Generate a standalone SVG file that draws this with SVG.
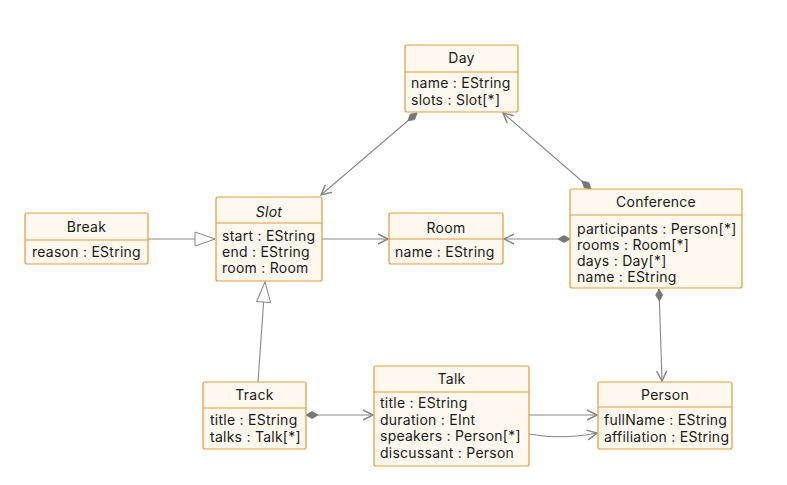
<svg xmlns="http://www.w3.org/2000/svg" width="787" height="485" viewBox="0 0 787 485">
<style>
.box{fill:#fff8ee;stroke:#e39a3b;stroke-width:1.2}
.div{stroke:#e39a3b;stroke-width:1.2}
text{font-family:Inter,"Liberation Sans",Arial,sans-serif;font-size:14px;letter-spacing:0.25px;fill:#1a1a1a}
.t{text-anchor:middle}
.it{font-style:italic}
.c{fill:none;stroke:#888;stroke-width:1.1}
</style>
<defs>
<marker id="arr" markerUnits="userSpaceOnUse" markerWidth="14" markerHeight="14" viewBox="-12 -7 14 14" refX="0" refY="0" orient="auto">
<path d="M-10,-5 L0,0 L-10,5" fill="none" stroke="#888" stroke-width="1.5"/>
</marker>
<marker id="dia" markerUnits="userSpaceOnUse" markerWidth="16" markerHeight="10" viewBox="-1 -5 16 10" refX="0" refY="0" orient="auto">
<path d="M0,0 L6,-3.5 L12,0 L6,3.5 Z" fill="#777" stroke="#777" stroke-width="0.8"/>
</marker>
<marker id="tri" markerUnits="userSpaceOnUse" markerWidth="24" markerHeight="18" viewBox="-22 -9 24 18" refX="0" refY="0" orient="auto">
<path d="M-20,-7 L0,0 L-20,7 Z" fill="#fff" stroke="#888" stroke-width="1"/>
</marker>
</defs>
<g id="connectors">
<path class="c" d="M417,113 L321,195" marker-start="url(#dia)" marker-end="url(#arr)"/>
<path class="c" d="M591,189 L503,113" marker-start="url(#dia)" marker-end="url(#arr)"/>
<path class="c" d="M148,239 L215,239" marker-end="url(#tri)"/>
<path class="c" d="M322,239 L388,239" marker-end="url(#arr)"/>
<path class="c" d="M570,239 L504,239" marker-start="url(#dia)" marker-end="url(#arr)"/>
<path class="c" d="M258,382 L265,282" marker-end="url(#tri)"/>
<path class="c" d="M659,289 L662,381" marker-start="url(#dia)" marker-end="url(#arr)"/>
<path class="c" d="M306,415 L373,415" marker-start="url(#dia)" marker-end="url(#arr)"/>
<path class="c" d="M529,415 L597,415" marker-end="url(#arr)"/>
<path class="c" d="M529,434 Q563,440 597,433" marker-end="url(#arr)"/>
</g>
<g id="Day">
<rect class="box" x="405" y="45" width="113" height="67" rx="2"/>
<line class="div" x1="405" y1="72" x2="518" y2="72"/>
<text class="t" x="461.5" y="63">Day</text>
<text x="411" y="88">name : EString</text>
<text x="411" y="105">slots : Slot[*]</text>
</g>
<g id="Conference">
<rect class="box" x="570" y="189" width="172" height="99" rx="2"/>
<line class="div" x1="570" y1="215" x2="742" y2="215"/>
<text class="t" x="656" y="207">Conference</text>
<text x="577" y="234">participants : Person[*]</text>
<text x="577" y="250">rooms : Room[*]</text>
<text x="577" y="266">days : Day[*]</text>
<text x="577" y="282">name : EString</text>
</g>
<g id="Break">
<rect class="box" x="25" y="213" width="123" height="51" rx="2"/>
<line class="div" x1="25" y1="240" x2="148" y2="240"/>
<text class="t" x="86.5" y="232">Break</text>
<text x="32" y="257">reason : EString</text>
</g>
<g id="Slot">
<rect class="box" x="216" y="197" width="106" height="84" rx="2"/>
<line class="div" x1="216" y1="223" x2="322" y2="223"/>
<text class="t it" x="269" y="217">Slot</text>
<text x="222" y="241">start : EString</text>
<text x="222" y="257">end : EString</text>
<text x="222" y="273">room : Room</text>
</g>
<g id="Room">
<rect class="box" x="389" y="213" width="114" height="51" rx="2"/>
<line class="div" x1="389" y1="239" x2="503" y2="239"/>
<text class="t" x="446" y="233">Room</text>
<text x="395" y="257">name : EString</text>
</g>
<g id="Track">
<rect class="box" x="203" y="382" width="103" height="67" rx="2"/>
<line class="div" x1="203" y1="408" x2="306" y2="408"/>
<text class="t" x="254.5" y="400">Track</text>
<text x="210" y="425">title : EString</text>
<text x="210" y="442">talks : Talk[*]</text>
</g>
<g id="Talk">
<rect class="box" x="374" y="366" width="155" height="100" rx="2"/>
<line class="div" x1="374" y1="392" x2="529" y2="392"/>
<text class="t" x="451.5" y="384">Talk</text>
<text x="380" y="408">title : EString</text>
<text x="380" y="425">duration : EInt</text>
<text x="380" y="441">speakers : Person[*]</text>
<text x="380" y="458">discussant : Person</text>
</g>
<g id="Person">
<rect class="box" x="598" y="382" width="134" height="67" rx="2"/>
<line class="div" x1="598" y1="407" x2="732" y2="407"/>
<text class="t" x="665" y="400">Person</text>
<text x="604" y="425">fullName : EString</text>
<text x="604" y="442">affiliation : EString</text>
</g>
</svg>
